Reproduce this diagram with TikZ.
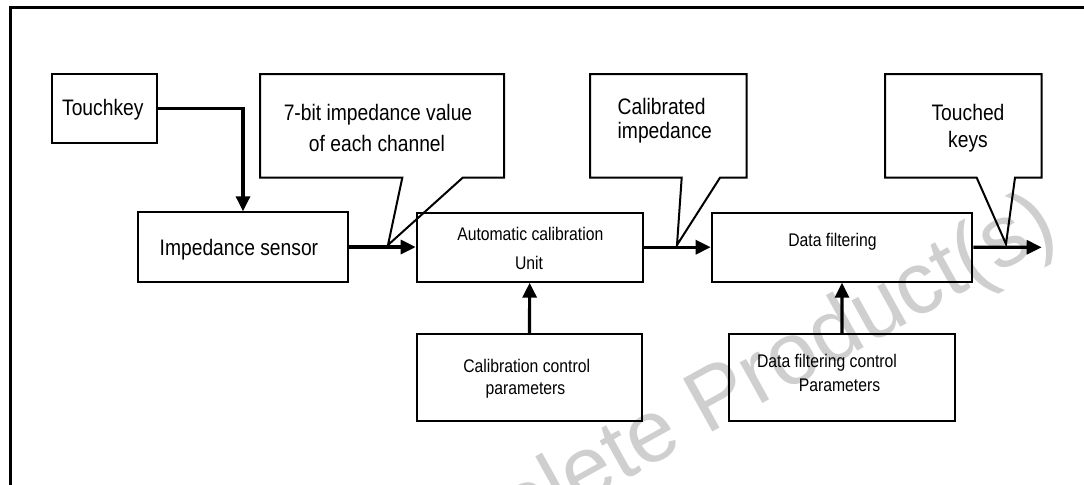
\documentclass[tikz,border=0pt]{standalone}
\usepackage{fontspec}
\setmainfont{Liberation Sans}[FakeStretch=0.86]
\newfontfamily\wmfont{Liberation Sans}
\usetikzlibrary{arrows.meta,fit}
\begin{document}
\begin{tikzpicture}[x=0.5pt,y=-0.5pt,
  box/.style={draw, line width=1pt, inner sep=0pt},
  arr/.style={line width=1.6pt, -{Triangle[length=7.5pt,width=7pt]}},
  big/.style={font=\fontsize{11.2}{13}\selectfont, inner sep=0pt, anchor=base},
  small/.style={font=\fontsize{9.15}{11}\selectfont, inner sep=0pt, anchor=base},
  callout/.style={draw, line width=1pt, line join=miter}]
\clip (0,0) rectangle (1084,484);
\fill[white] (0,0) rectangle (1084,484);
% watermark
\node[text=black!19, font=\wmfont\fontsize{44}{50}\selectfont, rotate=29, anchor=base east, inner sep=0pt] (wm) at (1062,238) {Obsolete Product(s)};
% frame
\draw[line width=1.4pt] (10.5,500) -- (10.5,7.5) -- (1100,7.5);
% boxes
\node[box, fit={(52,74)(157,143)}] (touch) {};
\node[box, fit={(138.3,212.3)(347.7,281.7)}] (imp) {};
\node[box, fit={(416.7,212.7)(642.7,281.7)}] (auto) {};
\node[box, fit={(711.7,212.7)(972.3,281.7)}] (filt) {};
\node[box, fit={(416.7,334)(642.3,420.7)}] (cal) {};
\node[box, fit={(729,334)(955,420.7)}] (fp) {};
% callouts
\coordinate (tip1) at (388,245);
\coordinate (tip2) at (677,245);
\coordinate (tip3) at (1006,244);
\draw[callout] (260,74) -- (504,74) -- (504,177.7) -- (462.7,177.7) -- (tip1) -- (402.3,177.7) -- (260,177.7) -- cycle;
\draw[callout] (590,74) -- (746.7,74) -- (746.7,177.7) -- (720,177.7) -- (tip2) -- (681.7,177.7) -- (590,177.7) -- cycle;
\draw[callout] (885,74) -- (1041.7,74) -- (1041.7,177.7) -- (1015,177.7) -- (tip3) -- (976.7,177.7) -- (885,177.7) -- cycle;
% texts
\node[big, anchor=base west] (ttouch) at (61.7,115) {Touchkey};
\node[big, anchor=base west] (timp) at (159.3,255) {Impedance sensor};
\node[big] (tc1a) at (378,120.7) {7-bit impedance value};
\node[big] (tc1b) at (377,151.7) {of each channel};
\node[big, anchor=base west] (tc2a) at (617.3,114) {Calibrated};
\node[big, anchor=base west] (tc2b) at (617.3,138) {impedance};
\node[big] (tc3a) at (968,120) {Touched};
\node[big] (tc3b) at (968,147) {keys};
\node[small] (tauto1) at (530.3,240.5) {Automatic calibration};
\node[small] (tauto2) at (529,269.3) {Unit};
\node[small] (tfilt) at (832.5,246) {Data filtering};
\node[small] (tcal1) at (526.7,372.7) {Calibration control};
\node[small] (tcal2) at (525.5,394) {parameters};
\node[small] (tfp1) at (827,367.3) {Data filtering control};
\node[small] (tfp2) at (839.5,391.7) {Parameters};
% connectors
\coordinate (out) at (1041.7,247.3);
\draw[arr] (touch.east) -| (imp.north);
\draw[arr] (imp.east) -- (imp.east -| auto.west);
\draw[arr] (auto.east) -- (auto.east -| filt.west);
\draw[arr] (filt.east) -- (out);
\draw[arr] (cal.north) -- (auto.south);
\draw[arr] (fp.north) -- (filt.south);
\end{tikzpicture}
\end{document}
